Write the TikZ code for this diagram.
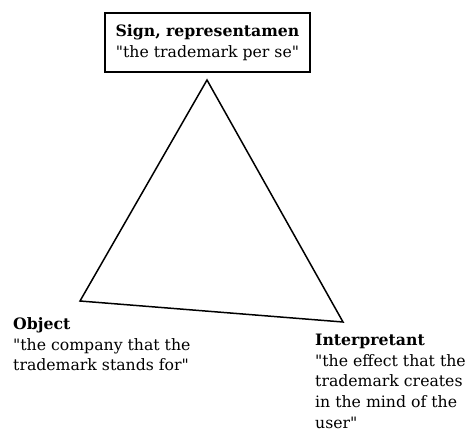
\documentclass[tikz,border=0pt]{standalone}
\usepackage{fontspec}
\setmainfont{DejaVu Serif}[Ligatures=TeXOff]
\begin{document}
\begin{tikzpicture}[x=1pt,y=-1pt,
  txt/.style={font=\fontsize{15.7}{20.6}\selectfont},
  lbl/.style={txt,inner sep=0pt,align=left,anchor=north west},
  edge/.style={draw,line width=1.5pt,line join=miter}]
\useasboundingbox (0,0) rectangle (468,439);
\fill[white] (0,0) rectangle (468,439);
% title box
\node[txt,draw,line width=1.1pt,minimum width=205pt,minimum height=59pt,inner sep=0pt,align=center] (sign) at (207.5,42.5)
  {\textbf{Sign, representamen}\\"the trademark per se"};
% triangle corners
\coordinate (t) at (207,80);
\coordinate (l) at (80,301);
\coordinate (r) at (343,322);
\draw[edge] (t) -- (l) -- (r) -- cycle;
% corner labels
\node[lbl] (obj) at (13,317.5) {\textbf{Object}\\"the company that the\\trademark stands for"};
\node[lbl] (int) at (315,334) {\textbf{Interpretant}\\"the effect that the\\trademark creates\\in the mind of the\\user"};
\end{tikzpicture}
\end{document}
